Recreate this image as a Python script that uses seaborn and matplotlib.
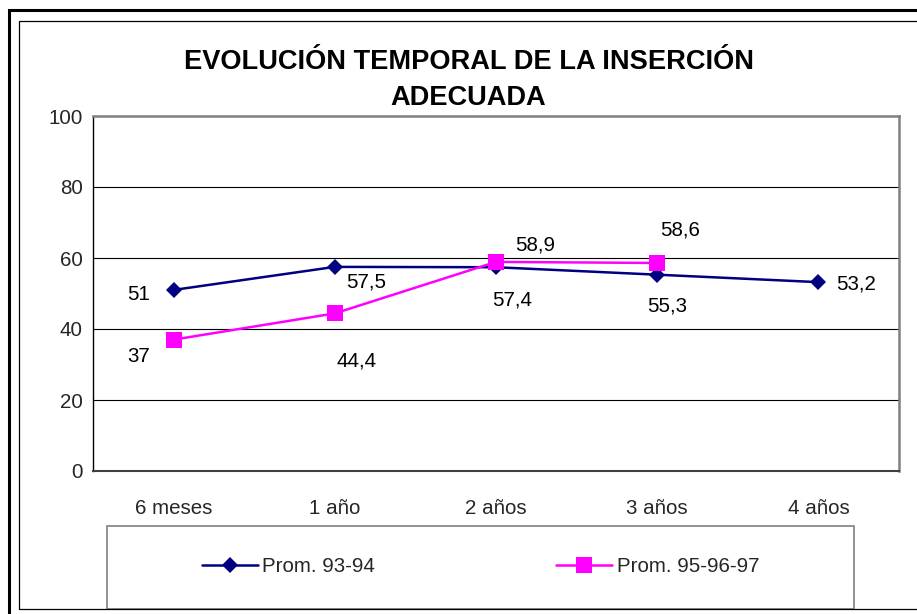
import numpy as np
import pandas as pd
import matplotlib
matplotlib.use("Agg")
import matplotlib.pyplot as plt
from matplotlib.patches import Rectangle
import seaborn as sns

# Data
categorias = ["6 meses", "1 año", "2 años", "3 años", "4 años"]
prom_93_94 = [51, 57.5, 57.4, 55.3, 53.2]
prom_95_96_97 = [37, 44.4, 58.9, 58.6]
series_nombres = ["Prom. 93-94", "Prom. 95-96-97"]
y_ticks = [0, 20, 40, 60, 80, 100]

W, H = 917, 614
sns.set_theme(style="white")
plt.rcParams["font.family"] = ["Liberation Sans", "DejaVu Sans"]

fig = plt.figure(figsize=(W / 100, H / 100), dpi=100)
fig.patch.set_facecolor("white")


def fx(px):
    return px / W


def fy(py):
    return 1 - py / H


ax = fig.add_axes([fx(93), fy(471), fx(899 - 93), (471 - 116) / H])
ax.set_facecolor("white")

filas = []
for nombre, valores in zip(series_nombres, [prom_93_94, prom_95_96_97]):
    for i, v in enumerate(valores):
        filas.append({"serie": nombre, "pos": i, "valor": v})
df = pd.DataFrame(filas)

colores = {"Prom. 93-94": "#000080", "Prom. 95-96-97": "#FF00FF"}
marcadores = {"Prom. 93-94": "D", "Prom. 95-96-97": "s"}
tamanos = {"Prom. 93-94": 7.8, "Prom. 95-96-97": 11}

for nombre in series_nombres:
    sub = df[df["serie"] == nombre]
    sns.lineplot(data=sub, x="pos", y="valor", ax=ax, color=colores[nombre],
                 marker=marcadores[nombre], markersize=tamanos[nombre],
                 markeredgewidth=0, linewidth=1.8, label=nombre, legend=False,
                 zorder=3)

# value labels
fs = 14.8
desplaz_1 = [(-35, -5), (31, -15), (16, -33), (10, -31), (37.5, -2)]
desplaz_2 = [(-35.5, -17), (21.5, -48), (39, 17), (23, 33)]


def fmt(v):
    if float(v).is_integer():
        return str(int(v))
    return f"{v:.1f}".replace(".", ",")


for valores, desp in [(prom_93_94, desplaz_1), (prom_95_96_97, desplaz_2)]:
    for i, (v, d) in enumerate(zip(valores, desp)):
        ax.annotate(fmt(v), (i, v), xytext=d, textcoords="offset pixels",
                    ha="center", va="center", fontsize=fs, color="black")

ax.set_xlim(-0.5, len(categorias) - 0.5)
ax.set_ylim(0, 100)
ax.set_yticks(y_ticks)
ax.set_yticklabels([str(t) for t in y_ticks], fontsize=fs)
ax.set_xticks(range(len(categorias)))
ax.set_xticklabels(categorias, fontsize=fs)
ax.set_xticks(np.arange(-0.5, len(categorias)), minor=True)
ax.tick_params(axis="x", which="major", length=0, pad=20)
ax.tick_params(axis="x", which="minor", length=4.5, width=1, color="black",
               direction="out")
ax.tick_params(axis="y", which="major", length=4.5, width=1, color="black",
               direction="out", pad=3)
ax.set_xlabel("")
ax.set_ylabel("")

for g in [20, 40, 60, 80]:
    ax.axhline(g, color="black", linewidth=0.8, zorder=1)

ax.spines["left"].set_color("black")
ax.spines["left"].set_linewidth(1.0)
ax.spines["bottom"].set_color("#404040")
ax.spines["bottom"].set_linewidth(1.5)
ax.spines["top"].set_color("#808080")
ax.spines["top"].set_linewidth(1.8)
ax.spines["right"].set_color("#808080")
ax.spines["right"].set_linewidth(1.8)
for s in ax.spines.values():
    s.set_visible(True)

# title
fig.text(fx(468.5), fy(62), "EVOLUCIÓN TEMPORAL DE LA INSERCIÓN", ha="center",
         va="center", fontsize=19.6, fontweight="bold", color="black")
fig.text(fx(468.5), fy(98), "ADECUADA", ha="center", va="center",
         fontsize=19.6, fontweight="bold", color="black")

# legend box
fig.patches.append(Rectangle((fx(107), fy(609)), fx(854 - 107), (609 - 526) / H,
                             transform=fig.transFigure, fill=False,
                             edgecolor="#808080", linewidth=1.2))
handles, labels = ax.get_legend_handles_labels()
fig.legend(handles, labels, loc="center", bbox_to_anchor=(fx(480.5), fy(567)),
           ncol=2, frameon=False, fontsize=fs, handlelength=2.74,
           handletextpad=0.2, columnspacing=8.8, borderpad=0, borderaxespad=0)

# chart borders
fig.patches.append(Rectangle((fx(9), fy(640)), fx(940 - 9), (640 - 10) / H,
                             transform=fig.transFigure, fill=False,
                             edgecolor="black", linewidth=2.2, clip_on=False))
fig.patches.append(Rectangle((fx(19), fy(609)), fx(935 - 19), (609 - 21) / H,
                             transform=fig.transFigure, fill=False,
                             edgecolor="black", linewidth=0.9, clip_on=False))

fig.savefig("out.png", dpi=100, facecolor="white")
